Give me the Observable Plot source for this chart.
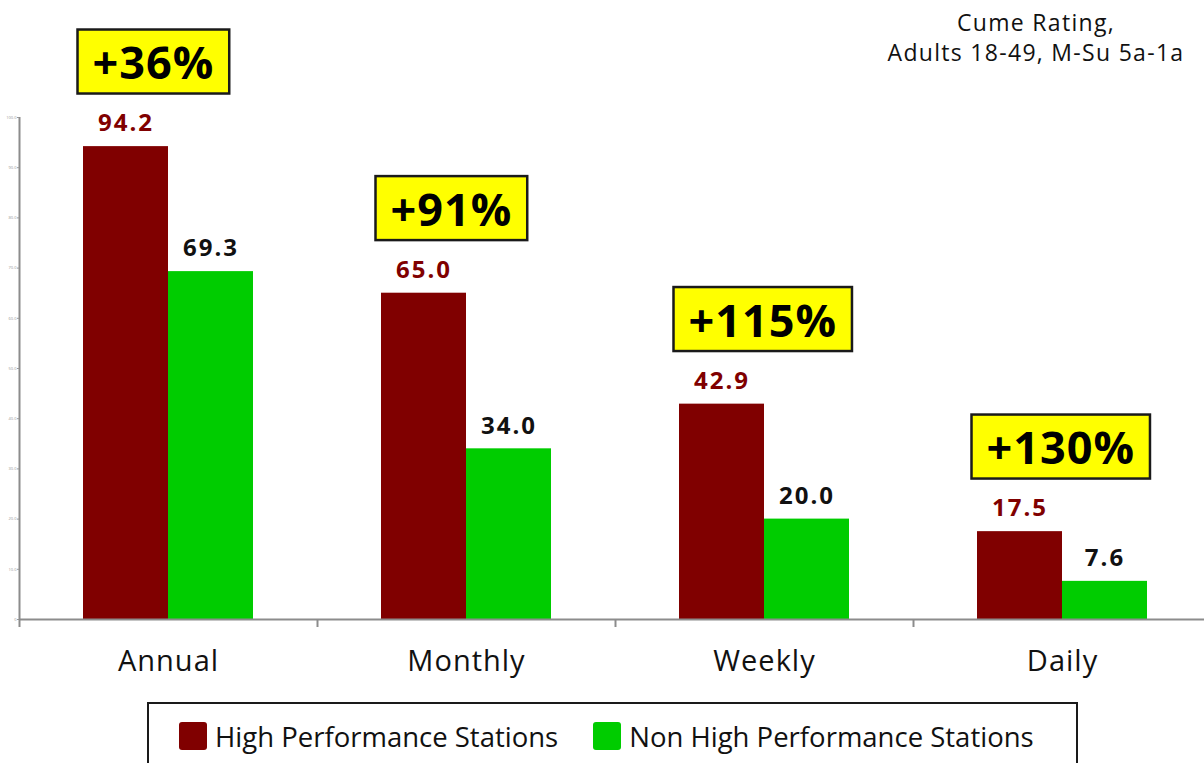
<!DOCTYPE html>
<html>
<head>
<meta charset="utf-8">
<script src="https://cdn.jsdelivr.net/npm/d3@7"></script>
<script src="https://cdn.jsdelivr.net/npm/@observablehq/plot@0.6"></script>
<style>
  html, body { margin: 0; padding: 0; background: white; }
  body { width: 1204px; height: 763px; position: relative; overflow: hidden; font-family: "Open Sans", sans-serif; }
  #chart { position: absolute; left: 0; top: 0; }
  #subtitle { position: absolute; left: 866px; top: 7px; width: 340px; text-align: center; font-size: 23px; letter-spacing: 1.3px; line-height: 30px; color: #111; }
  #legend { position: absolute; left: 147px; top: 702px; width: 931px; height: 80px; box-sizing: border-box; border: 2px solid #1a1a1a; display: flex; align-items: flex-start; padding: 17px 0 0 30px; font-size: 27.5px; color: #111; }
  .item { display: flex; align-items: center; height: 30px; }
  .sw { width: 28px; height: 28px; border-radius: 3px; margin-right: 8px; }
</style>
</head>
<body>
<div id="chart"></div>
<div id="subtitle">Cume Rating,<br>Adults 18-49, M-Su 5a-1a</div>
<div id="legend"></div>
<script>
const categories = ["Annual", "Monthly", "Weekly", "Daily"];
const highPerf = [94.2, 65.0, 42.9, 17.5];
const nonHighPerf = [69.3, 34.0, 20.0, 7.6];
const lifts = ["+36%", "+91%", "+115%", "+130%"];
const seriesNames = ["High Performance Stations", "Non High Performance Stations"];
const seriesColors = ["#800000", "#00cc00"];
const labelColors = ["#800000", "#111111"];
const yTicks = [0, 10, 20, 30, 40, 50, 60, 70, 80, 90, 100];

const W = 1204, H = 690, mL = 19, mR = -7, mT = 117, mB = 71;
const step = (W - mL - mR) / categories.length;
const barW = 85;
const inner = step / 2 - barW;
const axisGray = "#8c8c8c";

const hpData = categories.map((c, i) => ({category: c, value: highPerf[i]}));
const nhpData = categories.map((c, i) => ({category: c, value: nonHighPerf[i]}));
const liftData = categories.map((c, i) => ({category: c, value: highPerf[i], lift: lifts[i]}));

const chart = Plot.plot({
  width: W, height: H,
  marginLeft: mL, marginRight: mR, marginTop: mT, marginBottom: mB,
  style: {fontFamily: "'Open Sans', sans-serif", background: "white", overflow: "visible"},
  x: {domain: categories, padding: 0, axis: null, label: null},
  y: {domain: [0, 100], axis: null, label: null},
  marks: [
    Plot.barY(hpData, {x: "category", y: "value", fill: seriesColors[0], insetLeft: inner, insetRight: step / 2}),
    Plot.barY(nhpData, {x: "category", y: "value", fill: seriesColors[1], insetLeft: step / 2, insetRight: inner}),
    Plot.ruleY([0], {stroke: axisGray, strokeWidth: 2}),
    Plot.ruleX([categories[0]], {x: d => d, dx: -step / 2, y1: 0, y2: 100, stroke: axisGray, strokeWidth: 2}),
    Plot.axisY({ticks: yTicks, tickFormat: d => d === 0 ? "0" : d.toFixed(1), fontSize: 4, tickSize: 2, tickPadding: 1, color: "#999", label: null}),
    Plot.axisX({tickSize: 8, tickFormat: () => "", dx: -step / 2, stroke: axisGray, strokeWidth: 2, label: null}),
    Plot.axisX({tickSize: 0, tickPadding: 31, fontSize: 29, fill: "#111", label: null, className: "catlabels"}),
    Plot.text(hpData, {x: "category", y: "value", text: d => d.value.toFixed(1), dx: -barW / 2, dy: -23, fill: labelColors[0], fontSize: 24, fontWeight: 700, className: "vallabels"}),
    Plot.text(nhpData, {x: "category", y: "value", text: d => d.value.toFixed(1), dx: barW / 2, dy: -23, fill: labelColors[1], fontSize: 24, fontWeight: 700, className: "vallabels"}),
    Plot.text(liftData, {x: "category", y: "value", text: "lift", textAnchor: "start", dx: -76, dy: -82, fill: "black", fontSize: 45, fontWeight: 700, className: "liftlabels"})
  ]
});
document.getElementById("chart").appendChild(chart);

// letter spacing tweaks
chart.querySelectorAll(".vallabels text").forEach(t => t.style.letterSpacing = "2px");
chart.querySelectorAll(".catlabels text").forEach(t => t.style.letterSpacing = "1px");
chart.querySelectorAll(".liftlabels text").forEach(t => t.style.letterSpacing = "1px");

// draw yellow boxes behind the lift labels
let liftGroup = chart.querySelector(".liftlabels");
if (!liftGroup) {
  const groups = chart.querySelectorAll('g[aria-label="text"]');
  liftGroup = groups[groups.length - 1];
}
if (liftGroup) {
  const ns = "http://www.w3.org/2000/svg";
  const boxes = document.createElementNS(ns, "g");
  liftGroup.querySelectorAll("text").forEach(t => {
    const b = t.getBBox();
    const cy = b.y + b.height / 2;
    const r = document.createElementNS(ns, "rect");
    r.setAttribute("x", b.x - 15);
    r.setAttribute("y", cy - 32);
    r.setAttribute("width", b.width + 30);
    r.setAttribute("height", 64);
    r.setAttribute("fill", "#ffff00");
    r.setAttribute("stroke", "#1a1a1a");
    r.setAttribute("stroke-width", 2.5);
    if (t.getAttribute("transform")) r.setAttribute("transform", t.getAttribute("transform"));
    boxes.appendChild(r);
  });
  if (liftGroup.getAttribute("transform")) boxes.setAttribute("transform", liftGroup.getAttribute("transform"));
  liftGroup.parentNode.insertBefore(boxes, liftGroup);
}

// legend
const legend = document.getElementById("legend");
seriesNames.forEach((name, i) => {
  const item = document.createElement("div");
  item.className = "item";
  item.style.marginRight = i === 0 ? "35px" : "0";
  const sw = document.createElement("div");
  sw.className = "sw";
  sw.style.background = seriesColors[i];
  const label = document.createElement("span");
  label.textContent = name;
  item.appendChild(sw);
  item.appendChild(label);
  legend.appendChild(item);
});
</script>
</body>
</html>
